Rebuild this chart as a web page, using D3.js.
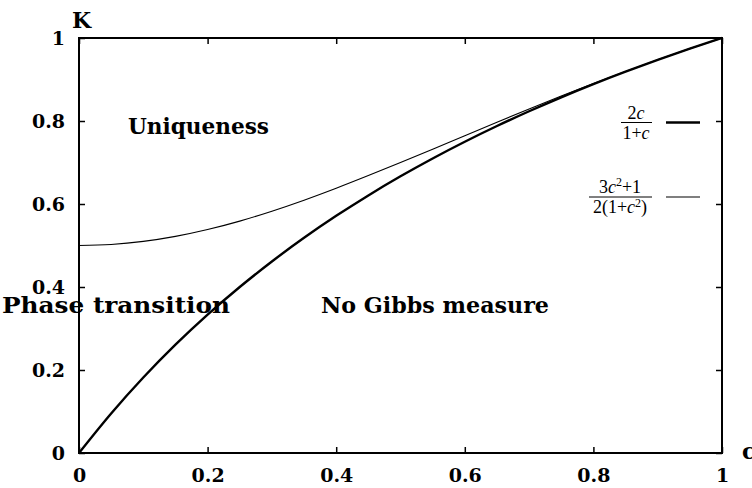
<!DOCTYPE html>
<html><head><meta charset="utf-8">
<script src="https://cdn.jsdelivr.net/npm/d3@7"></script>
<style>body{margin:0;background:#fff}svg{display:block}</style>
</head><body><svg id="c" width="752" height="488"></svg>
<script>
const cValues = [0,0.05,0.1,0.15,0.2,0.25,0.3,0.35,0.4,0.45,0.5,0.55,0.6,0.65,0.7,0.75,0.8,0.85,0.9,0.95,1];
const kBound = [0,0.0952,0.1818,0.2609,0.3333,0.4,0.4615,0.5185,0.5714,0.6207,0.6667,0.7097,0.75,0.7879,0.8235,0.8571,0.8889,0.9189,0.9474,0.9744,1];
const kUnique = [0.5,0.5025,0.5099,0.522,0.5385,0.5588,0.5826,0.6091,0.6379,0.6684,0.7,0.7322,0.7647,0.797,0.8289,0.86,0.8902,0.9194,0.9475,0.9744,1];
const xTicks = [0,0.2,0.4,0.6,0.8,1];
const yTicks = [0,0.2,0.4,0.6,0.8,1];
const regionLabels = ["Uniqueness","Phase transition","No Gibbs measure"];

const svg = d3.select("#c");
const L=79,R=722,T=38,B=453;
const x = d3.scaleLinear().domain([0,1]).range([L,R]);
const y = d3.scaleLinear().domain([0,1]).range([B,T]);
const font = "'DejaVu Serif', serif";

svg.append("rect").attr("x",L).attr("y",T).attr("width",R-L).attr("height",B-T)
  .attr("fill","none").attr("stroke","#000").attr("stroke-width",2);

const ax = (g)=>g.selectAll(".domain").remove();
svg.append("g").attr("transform",`translate(0,${B})`)
  .call(d3.axisBottom(x).tickValues(xTicks).tickSize(-6).tickPadding(16).tickFormat(d3.format("")))
  .call(ax).call(g=>g.selectAll("text").attr("font-family",font).attr("font-weight","bold").attr("font-size",19).attr("fill","#000"))
  .call(g=>g.selectAll("line").attr("stroke-width",1.5));
svg.append("g").attr("transform",`translate(${L},0)`)
  .call(d3.axisLeft(y).tickValues(yTicks).tickSize(-6).tickPadding(14).tickFormat(d3.format("")))
  .call(ax).call(g=>g.selectAll("text").attr("font-family",font).attr("font-weight","bold").attr("font-size",19).attr("fill","#000"))
  .call(g=>g.selectAll("line").attr("stroke-width",1.5));
svg.append("g").attr("transform",`translate(${R},0)`)
  .call(d3.axisRight(y).tickValues(yTicks).tickSize(-6).tickFormat(""))
  .call(ax).call(g=>g.selectAll("line").attr("stroke-width",1.5));
svg.append("g").attr("transform",`translate(0,${T})`)
  .call(d3.axisTop(x).tickValues(xTicks).tickSize(-6).tickFormat(""))
  .call(ax).call(g=>g.selectAll("line").attr("stroke-width",1.5));

svg.append("text").attr("x",72).attr("y",28).text("K")
  .attr("font-family",font).attr("font-weight","bold").attr("font-size",22);
svg.append("text").attr("x",742).attr("y",459).text("c")
  .attr("font-family",font).attr("font-weight","bold").attr("font-size",22);

const line = d3.line().x((d,i)=>x(cValues[i])).y(d=>y(d)).curve(d3.curveMonotoneX);
svg.append("path").attr("d",line(kUnique)).attr("fill","none").attr("stroke","#000").attr("stroke-width",1.1);
svg.append("path").attr("d",line(kBound)).attr("fill","none").attr("stroke","#000").attr("stroke-width",2.4);

const lab = [[128,134,141],[2,313,228],[321,313,228]];
regionLabels.forEach((t,i)=>{
  svg.append("text").attr("x",lab[i][0]).attr("y",lab[i][1]).text(t)
    .attr("textLength",lab[i][2]).attr("lengthAdjust","spacingAndGlyphs")
    .attr("font-family",font).attr("font-weight","bold").attr("font-size",22);
});

const lf = "'Liberation Serif', serif";
function frac(cx, yb, num, den, x0, x1){
  const g = svg.append("g").attr("font-family",lf).attr("font-size",18).attr("text-anchor","middle");
  const n = g.append("text").attr("x",cx).attr("y",yb-4); num(n);
  const d = g.append("text").attr("x",cx).attr("y",yb+16); den(d);
  svg.append("line").attr("x1",x0).attr("x2",x1).attr("y1",yb).attr("y2",yb).attr("stroke","#000").attr("stroke-width",1);
}
frac(636,122.5,
  t=>{t.append("tspan").text("2");t.append("tspan").attr("font-style","italic").text("c");},
  t=>{t.append("tspan").text("1+");t.append("tspan").attr("font-style","italic").text("c");},
  621,652);
frac(620,197,
  t=>{t.append("tspan").text("3");t.append("tspan").attr("font-style","italic").text("c");
      t.append("tspan").attr("font-size",12).attr("dy",-7).text("2");
      t.append("tspan").attr("dy",7).text("+1");},
  t=>{t.append("tspan").text("2(1+");t.append("tspan").attr("font-style","italic").text("c");
      t.append("tspan").attr("font-size",12).attr("dy",-6).text("2");
      t.append("tspan").attr("dy",6).text(")");},
  589,652);
svg.append("line").attr("x1",666).attr("x2",700).attr("y1",122.5).attr("y2",122.5).attr("stroke","#000").attr("stroke-width",2.4);
svg.append("line").attr("x1",666).attr("x2",700).attr("y1",197).attr("y2",197).attr("stroke","#000").attr("stroke-width",1.1);
</script></body></html>
